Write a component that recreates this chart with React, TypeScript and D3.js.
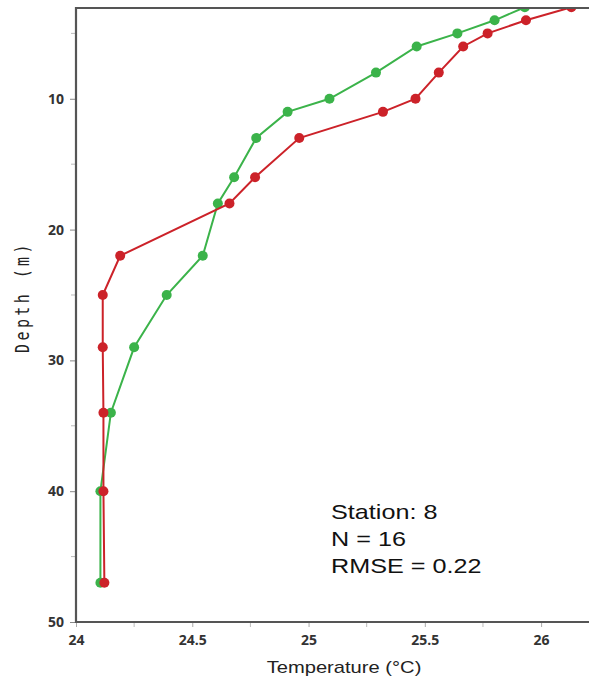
import React, { useEffect, useRef } from "react";
import * as d3 from "d3";

const depths = [3, 4, 5, 6, 8, 10, 11, 13, 16, 18, 22, 25, 29, 34, 40, 47];
const greenTemps = [
  25.93, 25.8, 25.64, 25.465, 25.29, 25.09, 24.91, 24.775, 24.68, 24.61,
  24.545, 24.39, 24.25, 24.15, 24.105, 24.105,
];
const redTemps = [
  26.13, 25.935, 25.77, 25.665, 25.56, 25.46, 25.32, 24.96, 24.77, 24.66,
  24.19, 24.115, 24.115, 24.118, 24.118, 24.122,
];
const xTicks = [24, 24.5, 25, 25.5, 26];
const xMinorTicks = [24.25, 24.75, 25.25, 25.75];
const yTicks = [10, 20, 30, 40, 50];
const yMinorTicks = [5, 15, 25, 35, 45];
const statsLines = ["Station: 8", "N = 16", "RMSE = 0.22"];

const W = 589;
const H = 679;
// the source picture is stretched sideways a little
const stretch = 1.26;

export default function App() {
  const ref = useRef<SVGSVGElement>(null);

  useEffect(() => {
    const svg = d3.select(ref.current);
    svg.selectAll("*").remove();

    const left = 76;
    const top = 8;
    const bottom = 622;
    const x = d3.scaleLinear().domain([24, 26.206]).range([left, W]);
    const y = d3.scaleLinear().domain([3.06, 50]).range([top, bottom]);

    svg
      .append("defs")
      .append("clipPath")
      .attr("id", "plot-clip")
      .append("rect")
      .attr("x", left)
      .attr("y", top)
      .attr("width", W - left)
      .attr("height", bottom - top);

    // series
    const series = [
      { temps: greenTemps, color: "#3bb34a" },
      { temps: redTemps, color: "#cc2229" },
    ];
    const line = d3
      .line<number>()
      .x((d) => x(d))
      .y((_, i) => y(depths[i]));
    const plot = svg.append("g").attr("clip-path", "url(#plot-clip)");
    series.forEach((s) => {
      plot
        .append("path")
        .datum(s.temps)
        .attr("d", line)
        .attr("fill", "none")
        .attr("stroke", s.color)
        .attr("stroke-width", 2);
      plot
        .selectAll(null)
        .data(s.temps)
        .enter()
        .append("circle")
        .attr("cx", (d) => x(d))
        .attr("cy", (_, i) => y(depths[i]))
        .attr("r", 5)
        .attr("fill", s.color);
    });

    const tickFont = (sel: any) =>
      sel
        .attr("font-family", "'Open Sans', sans-serif")
        .attr("font-weight", "bold")
        .attr("font-size", 14)
        .attr("fill", "#333");

    // y axis
    const yAxis = d3.axisLeft(y).tickValues(yTicks).tickSize(6).tickPadding(6);
    const yG = svg
      .append("g")
      .attr("transform", `translate(${left},0)`)
      .call(yAxis);
    yG.select(".domain").remove();
    yG.selectAll(".tick line").attr("stroke", "#888");
    tickFont(yG.selectAll(".tick text"));
    svg
      .append("g")
      .selectAll("line")
      .data(yMinorTicks)
      .enter()
      .append("line")
      .attr("x1", left - 5)
      .attr("x2", left)
      .attr("y1", (d) => y(d))
      .attr("y2", (d) => y(d))
      .attr("stroke", "#bbb");

    // x axis
    const xAxis = d3
      .axisBottom(x)
      .tickValues(xTicks)
      .tickSize(5)
      .tickPadding(8)
      .tickFormat(d3.format(""));
    const xG = svg
      .append("g")
      .attr("transform", `translate(0,${bottom})`)
      .call(xAxis);
    xG.select(".domain").remove();
    xG.selectAll(".tick line").attr("stroke", "#aaa");
    tickFont(xG.selectAll(".tick text"));
    svg
      .append("g")
      .selectAll("line")
      .data(xMinorTicks)
      .enter()
      .append("line")
      .attr("x1", (d) => x(d))
      .attr("x2", (d) => x(d))
      .attr("y1", bottom)
      .attr("y2", bottom + 5)
      .attr("stroke", "#bbb");

    // frame lines
    svg
      .append("path")
      .attr("d", `M${W},${top}H${left}V${bottom}H${W}`)
      .attr("fill", "none")
      .attr("stroke", "#555")
      .attr("stroke-width", 2.2);

    // axis titles
    svg
      .append("text")
      .attr("transform", `translate(344,673) scale(${stretch},1)`)
      .attr("text-anchor", "middle")
      .attr("font-family", "'Liberation Sans', Arial, sans-serif")
      .attr("font-size", 16)
      .attr("fill", "#222")
      .text("Temperature (°C)");
    svg
      .append("text")
      .attr("transform", `translate(29,297) rotate(-90) scale(1,${stretch})`)
      .attr("text-anchor", "middle")
      .attr("font-family", "'DejaVu Sans Mono', monospace")
      .attr("font-size", 15)
      .attr("letter-spacing", 3.4)
      .attr("fill", "#222")
      .text("Depth (m)");

    // stats
    svg
      .append("g")
      .selectAll("text")
      .data(statsLines)
      .enter()
      .append("text")
      .attr("transform", (_, i) => `translate(331,${519 + i * 27}) scale(${stretch},1)`)
      .attr("font-family", "'Liberation Sans', Arial, sans-serif")
      .attr("font-size", 20)
      .attr("fill", "#111")
      .text((d) => d);
  }, []);

  return (
    <svg
      ref={ref}
      width={W}
      height={H}
      style={{ position: "absolute", left: 0, top: 0, background: "#fff" }}
    />
  );
}
